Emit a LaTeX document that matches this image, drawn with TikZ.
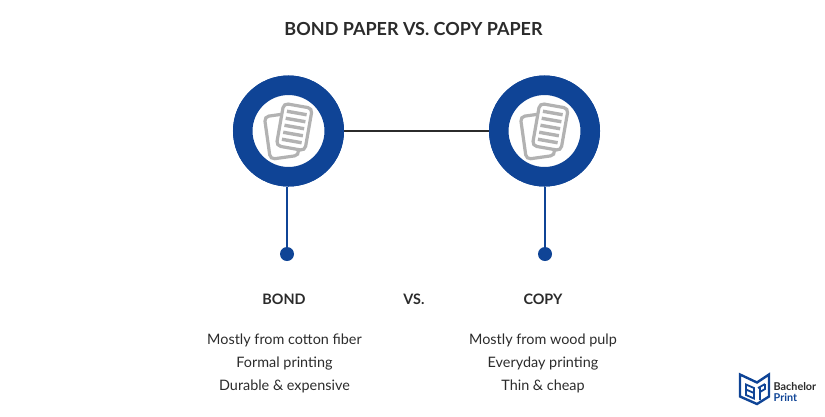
\documentclass[tikz,border=0pt]{standalone}
\usepackage{fontspec}
\setmainfont{Lato}
\usetikzlibrary{positioning}
\definecolor{bondblue}{HTML}{0F4496}
\definecolor{inkdark}{HTML}{2B2B2B}
\definecolor{sheetgray}{HTML}{B2B2B2}
\tikzset{
  ring/.style={circle, draw=bondblue, line width=19.5pt, fill=white, minimum size=91.5pt, inner sep=0pt},
  dot/.style={circle, fill=bondblue, minimum size=14pt, inner sep=0pt},
  sheet/.style={draw=sheetgray, line width=3.2pt, fill=white, rounded corners=4.5pt,
    minimum width=29pt, minimum height=43pt, inner sep=0pt},
  bar/.style={fill=sheetgray, minimum width=20pt, minimum height=3.4pt, inner sep=0pt},
  heading/.style={font=\fontsize{14.4}{18}\bfseries, text=inkdark},
  body/.style={font=\fontsize{14.4}{23}\selectfont, text=inkdark, align=center},
  logotext/.style={font=\fontsize{10.8}{12}\bfseries, inner sep=0pt, anchor=base west},
  logoline/.style={draw=bondblue, line width=2.4pt, line join=miter},
  pics/papers/.style={code={
    \node[sheet, rotate=8] at (-6.8,5) {};
    \node[sheet, rotate=-10] at (5.8,-4) {};
    \foreach \i in {-2,...,2}
      \node[bar, rotate=-10] at (5.8-1.25*\i,-4+7*\i) {};
  }}
}
\begin{document}
\begin{tikzpicture}[x=1pt, y=-1pt, node distance=256pt, on grid]

  \useasboundingbox (0,0) rectangle (825,416);

  \node[heading, font=\fontsize{18}{20}\bfseries] (title) at (413.5,29) {BOND PAPER VS. COPY PAPER};

  \node[ring] (bond) at (288.5,131) {};
  \node[ring] (copy) [right=of bond] {};
  \draw[inkdark, line width=2.8pt] (bond) -- (copy);
  \node[ring] at (bond) {};
  \node[ring] at (copy) {};
  \pic at (bond) {papers};
  \pic at (copy) {papers};

  \node[dot] (bonddot) at (287,254) {};
  \node[dot] (copydot) at (545,254) {};
  \draw[bondblue, line width=2pt] (bonddot |- bond.south) -- (bonddot);
  \draw[bondblue, line width=2pt] (copydot |- copy.south) -- (copydot);

  \node[heading] (bondhead) at (284,299) {BOND};
  \node[heading] (vs) at (414,299) {VS.};
  \node[heading] (copyhead) at (543,299) {COPY};

  \node[body] (bondtext) at (284.5,363) {Mostly from cotton fiber\\Formal printing\\Durable \& expensive};
  \node[body] (copytext) at (543,363) {Mostly from wood pulp\\Everyday printing\\Thin \& cheap};

  % logo
  \draw[logoline] (740,374.5) -- (757,382.5) -- (769,374.5) -- (769,396.5) -- (757,404) -- (740,396.5) -- cycle;
  \draw[logoline, line width=1.8pt] (746,384.5) -- (754,388) -- (754,398.5) -- (746,395) -- cycle;
  \draw[logoline, line width=1.8pt] (746,389.5) -- (754,393);
  \draw[logoline, line width=1.8pt] (758,388) -- (765,384) (765,384) -- (765,389) -- (760,392) (760,387) -- (760,400);
  \node[logotext, text=inkdark] (logotop) at (773.5,390) {Bachelor};
  \node[logotext, text=bondblue] (logobottom) at (773.5,401) {Print};

\end{tikzpicture}
\end{document}
